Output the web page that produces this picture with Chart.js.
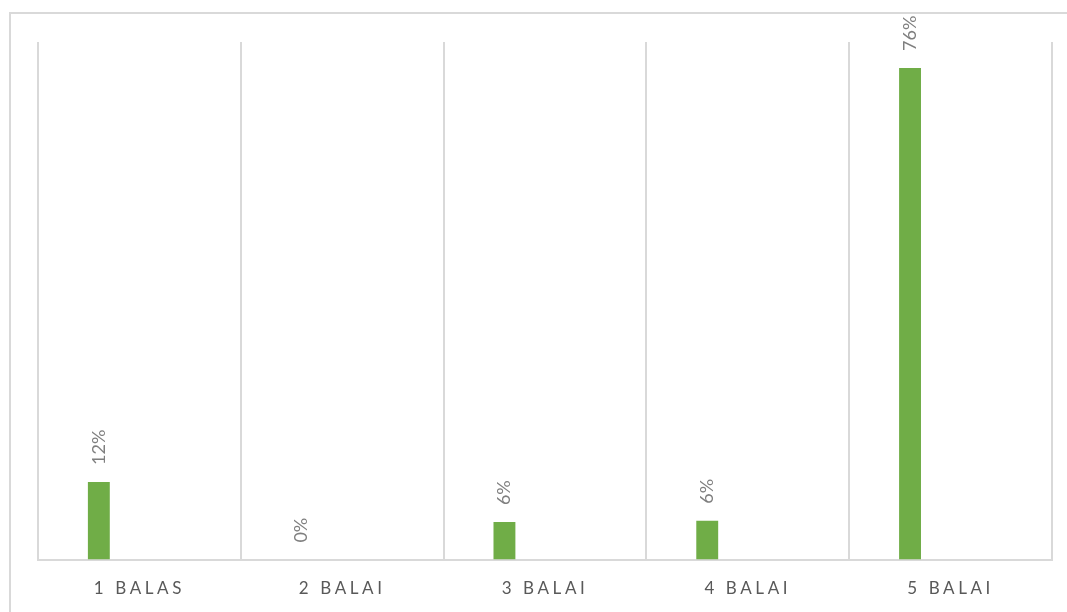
<!DOCTYPE html>
<html>
<head>
<meta charset="utf-8">
<script src="https://cdn.jsdelivr.net/npm/chart.js@4/dist/chart.umd.min.js"></script>
<style>
html, body { margin: 0; padding: 0; background: #fff; overflow: hidden; }
.wrap { position: relative; width: 1067px; height: 612px; }
.frame { position: absolute; left: 9px; top: 12px; width: 1100px; height: 700px; border: 2px solid #d9d9d9; box-sizing: border-box; }
canvas { position: absolute; left: 0; top: 0; }
</style>
</head>
<body>
<div class="wrap">
<div class="frame"></div>
<canvas id="chart" width="1067" height="612"></canvas>
</div>
<script>
const categories = ["1 BALAS", "2 BALAI", "3 BALAI", "4 BALAI", "5 BALAI"];
const shares = [12, 0, 5.8, 6, 76];
const emptySeries = [null, null, null, null, null];

// rotated % labels above each bar
const barLabels = {
    id: "barLabels",
    beforeDraw(chart) {
        chart.ctx.letterSpacing = "3.6px";
    },
    beforeDatasetsDraw(chart) {
        chart.ctx.letterSpacing = "0px";
    },
    afterDatasetsDraw(chart) {
        const ctx = chart.ctx;
        const meta = chart.getDatasetMeta(0);
        ctx.save();
        ctx.letterSpacing = "0px";
        ctx.fillStyle = "#7f7f7f";
        ctx.font = "18px Lato";
        ctx.textAlign = "left";
        ctx.textBaseline = "middle";
        meta.data.forEach(function (bar, i) {
            ctx.save();
            ctx.translate(bar.x, bar.y - 17);
            ctx.rotate(-Math.PI / 2);
            ctx.fillText(Math.round(shares[i]) + "%", 0, 0);
            ctx.restore();
        });
        ctx.restore();
    }
};

new Chart(document.getElementById("chart"), {
    type: "bar",
    data: {
        labels: categories,
        datasets: [{
            data: shares,
            backgroundColor: "#70ad47",
            categoryPercentage: 0.8,
            barPercentage: 0.27
        }, {
            data: emptySeries,
            backgroundColor: "#ffffff",
            categoryPercentage: 0.8,
            barPercentage: 0.27
        }]
    },
    options: {
        responsive: false,
        devicePixelRatio: 1,
        animation: false,
        layout: { padding: { left: 38, right: 15, top: 42, bottom: -6 } },
        plugins: {
            legend: { display: false },
            tooltip: { enabled: false }
        },
        scales: {
            x: {
                grid: { color: "#d9d9d9", lineWidth: 2, drawTicks: false },
                border: { color: "#d9d9d9", width: 2 },
                ticks: {
                    color: "#595959",
                    font: { family: "Lato", size: 17 },
                    padding: 19,
                    maxRotation: 0
                }
            },
            y: {
                display: false,
                min: 0,
                max: 80
            }
        }
    },
    plugins: [barLabels]
});
</script>
</body>
</html>
